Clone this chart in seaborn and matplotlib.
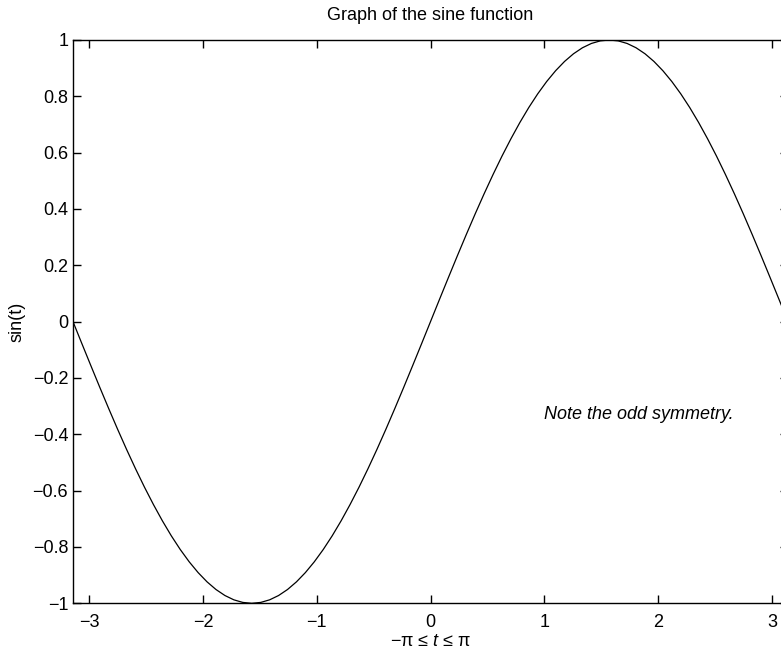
import matplotlib
matplotlib.use("Agg")
import matplotlib.pyplot as plt
import seaborn as sns

# Data (curve samples)
t = [-3.1416, -3.0631, -2.9845, -2.9060, -2.8274, -2.7489, -2.6704, -2.5918,
     -2.5133, -2.4347, -2.3562, -2.2777, -2.1991, -2.1206, -2.0420, -1.9635,
     -1.8850, -1.8064, -1.7279, -1.6493, -1.5708, -1.4923, -1.4137, -1.3352,
     -1.2566, -1.1781, -1.0996, -1.0210, -0.9425, -0.8639, -0.7854, -0.7069,
     -0.6283, -0.5498, -0.4712, -0.3927, -0.3142, -0.2356, -0.1571, -0.0785,
     0.0,
     0.0785, 0.1571, 0.2356, 0.3142, 0.3927, 0.4712, 0.5498, 0.6283,
     0.7069, 0.7854, 0.8639, 0.9425, 1.0210, 1.0996, 1.1781, 1.2566,
     1.3352, 1.4137, 1.4923, 1.5708, 1.6493, 1.7279, 1.8064, 1.8850,
     1.9635, 2.0420, 2.1206, 2.1991, 2.2777, 2.3562, 2.4347, 2.5133,
     2.5918, 2.6704, 2.7489, 2.8274, 2.9060, 2.9845, 3.0631, 3.1416]
sin_t = [0.0, -0.0785, -0.1564, -0.2334, -0.3090, -0.3827, -0.4540, -0.5225,
         -0.5878, -0.6494, -0.7071, -0.7604, -0.8090, -0.8526, -0.8910, -0.9239,
         -0.9511, -0.9724, -0.9877, -0.9969, -1.0, -0.9969, -0.9877, -0.9724,
         -0.9511, -0.9239, -0.8910, -0.8526, -0.8090, -0.7604, -0.7071, -0.6494,
         -0.5878, -0.5225, -0.4540, -0.3827, -0.3090, -0.2334, -0.1564, -0.0785,
         0.0,
         0.0785, 0.1564, 0.2334, 0.3090, 0.3827, 0.4540, 0.5225, 0.5878,
         0.6494, 0.7071, 0.7604, 0.8090, 0.8526, 0.8910, 0.9239, 0.9511,
         0.9724, 0.9877, 0.9969, 1.0, 0.9969, 0.9877, 0.9724, 0.9511,
         0.9239, 0.8910, 0.8526, 0.8090, 0.7604, 0.7071, 0.6494, 0.5878,
         0.5225, 0.4540, 0.3827, 0.3090, 0.2334, 0.1564, 0.0785, 0.0]

x_ticks = [-3, -2, -1, 0, 1, 2, 3]
x_tick_labels = ['−3', '−2', '−1', '0', '1', '2', '3']
y_ticks = [-1, -0.8, -0.6, -0.4, -0.2, 0, 0.2, 0.4, 0.6, 0.8, 1]
y_tick_labels = ['−1', '−0.8', '−0.6', '−0.4', '−0.2', '0', '0.2', '0.4', '0.6', '0.8', '1']

title = 'Graph of the sine function'
ylabel = 'sin(t)'
note = 'Note the odd symmetry.'

sns.set_style('ticks')
plt.rcParams['font.family'] = ['Liberation Sans', 'DejaVu Sans']
plt.rcParams['mathtext.fontset'] = 'custom'
plt.rcParams['mathtext.rm'] = 'Liberation Sans'
plt.rcParams['mathtext.it'] = 'Liberation Sans:italic'
plt.rcParams['axes.unicode_minus'] = True
plt.rcParams['text.color'] = 'black'
plt.rcParams['axes.labelcolor'] = 'black'
plt.rcParams['xtick.color'] = 'black'
plt.rcParams['ytick.color'] = 'black'

fs = 13
fig = plt.figure(figsize=(7.81, 6.49), dpi=100)
W, H = 781, 649
ax = fig.add_axes([73 / W, (H - 603.3) / H, (788 - 73) / W, (603.3 - 40) / H])

sns.lineplot(x=t, y=sin_t, ax=ax, color='black', linewidth=0.9,
             sort=False, estimator=None)

ax.set_xlim(-3.1416, 3.1416)
ax.set_ylim(-1, 1)
ax.set_xticks(x_ticks)
ax.set_xticklabels(x_tick_labels, fontsize=fs)
ax.set_yticks(y_ticks)
ax.set_yticklabels(y_tick_labels, fontsize=fs)
ax.tick_params(axis='both', direction='in', top=True, right=True,
               length=5.6, width=1.0, color='black', labelcolor='black')
ax.tick_params(axis='x', pad=8)
ax.tick_params(axis='y', pad=3.5)
for sp in ax.spines.values():
    sp.set_visible(True)
    sp.set_linewidth(1.0)
    sp.set_color('black')

ax.set_title(title, fontsize=fs, pad=14.5, color='black')
ax.set_ylabel(ylabel, fontsize=fs, labelpad=5, color='black')
ax.set_xlabel(r'$\mathrm{−π}\ \mathrm{≤}\ t\ \mathrm{≤}\ \mathrm{π}$',
              fontsize=fs, labelpad=1.5, color='black')

ax.text(1, -0.33, note, fontsize=fs, style='italic', ha='left', va='center',
        color='black')

fig.savefig('out.png', dpi=100, facecolor='white')
